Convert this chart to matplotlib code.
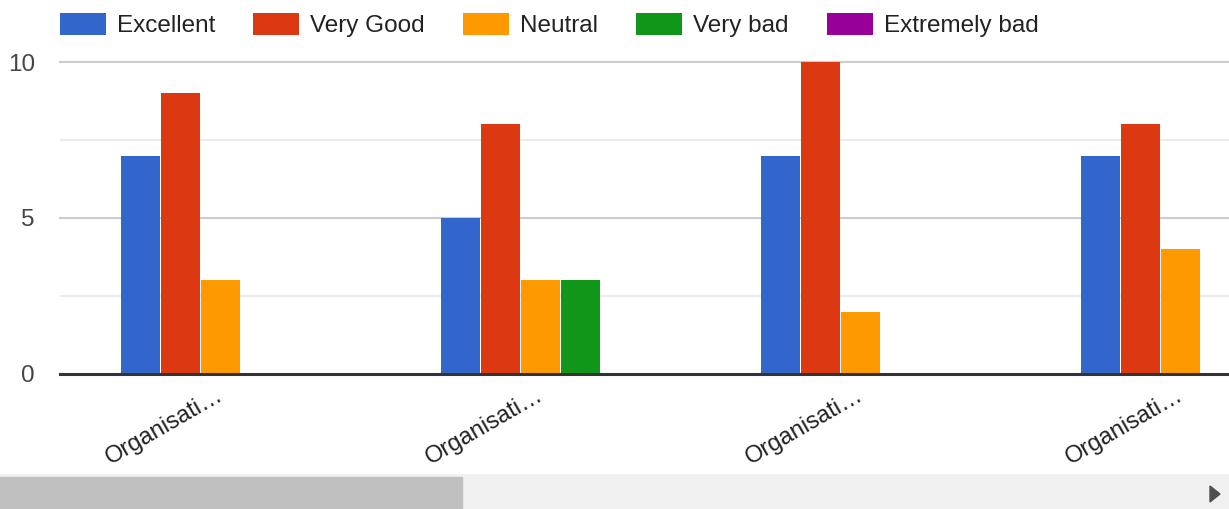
import matplotlib
matplotlib.use("Agg")
import matplotlib.pyplot as plt
from matplotlib.patches import Rectangle, Polygon
from matplotlib.transforms import ScaledTranslation
import numpy as np

# Survey answers per organisation
groups = ["Organisati…", "Organisati…", "Organisati…", "Organisati…"]
series = ["Excellent", "Very Good", "Neutral", "Very bad", "Extremely bad"]
excellent = [7, 5, 7, 7]
very_good = [9, 8, 10, 8]
neutral = [3, 3, 2, 4]
very_bad = [0, 3, 0, 0]
extremely_bad = [0, 0, 0, 0]
values = [excellent, very_good, neutral, very_bad, extremely_bad]
colors = ["#3366cc", "#dc3912", "#ff9900", "#109618", "#990099"]
yticks = [0, 5, 10]

W, H = 1229, 509
INK = "#222222"
MUTED = "#444444"
FS = 17.5
EM = FS * 100 / 72

plt.rcParams["font.family"] = ["Liberation Sans", "DejaVu Sans"]
fig = plt.figure(figsize=(W / 100, H / 100), dpi=100)

# plot area: x from 60px to right edge, y=0 at 374px, y=10 at 62px
ax = fig.add_axes([60 / W, (H - 374) / H, 1 - 60 / W, 312 / H])
ax.set_facecolor("white")
for s in ax.spines.values():
    s.set_visible(False)

step = 40 / 320          # one bar slot inside a group (group spacing = 1)
bar_w = 39 / 320
x = np.arange(len(groups))
for k, (name, vals, c) in enumerate(zip(series, values, colors)):
    left = x - 100 / 320 + k * step
    ax.bar(left, vals, width=bar_w, align="edge", color=c, label=name,
           zorder=3, clip_on=False)

for yv in (2.5, 7.5):
    ax.axhline(yv, color="#ebebeb", linewidth=1.5, zorder=1)
for yv in (5, 10):
    ax.axhline(yv, color="#cccccc", linewidth=1.5, zorder=1, clip_on=False)
ax.axhline(0, color="#333333", linewidth=2.2, zorder=4, clip_on=False)

ax.set_xlim(-161 / 320, -161 / 320 + (W - 60) / 320)
ax.set_ylim(0, 10)
ax.set_yticks(yticks)
ax.set_yticklabels([str(v) for v in yticks], fontsize=FS, color=MUTED)
ax.set_xticks(x)
ax.set_xticklabels(groups, fontsize=17, color=INK, rotation=30,
                   ha="right", rotation_mode="anchor")
ax.tick_params(axis="both", length=0)
ax.tick_params(axis="y", pad=18)
ax.tick_params(axis="x", pad=7)
shift = ScaledTranslation(-5 / 100, 0, fig.dpi_scale_trans)
for lab in ax.get_xticklabels():
    lab.set_transform(lab.get_transform() + shift)

fig.legend(loc="upper left", bbox_to_anchor=(60 / W, 1 - 13 / H), ncol=5,
           frameon=False, fontsize=FS, labelcolor=INK, borderpad=0,
           borderaxespad=0, handlelength=46 / EM, handleheight=24 / EM,
           handletextpad=11 / EM, columnspacing=38 / EM)

# horizontal scrollbar strip at the bottom
sb = fig.add_axes([0, 0, 1, 35 / H])
sb.set_xlim(0, W)
sb.set_ylim(0, 35)
sb.axis("off")
sb.add_patch(Rectangle((0, 0), W, 35, color="#f0f0f0"))
sb.add_patch(Rectangle((0, 0), 462, 32, color="#c0c0c0"))
sb.add_patch(Polygon([(1210, 7), (1210, 23), (1220, 15)], color="#505050"))

fig.savefig("out.png", dpi=100)
